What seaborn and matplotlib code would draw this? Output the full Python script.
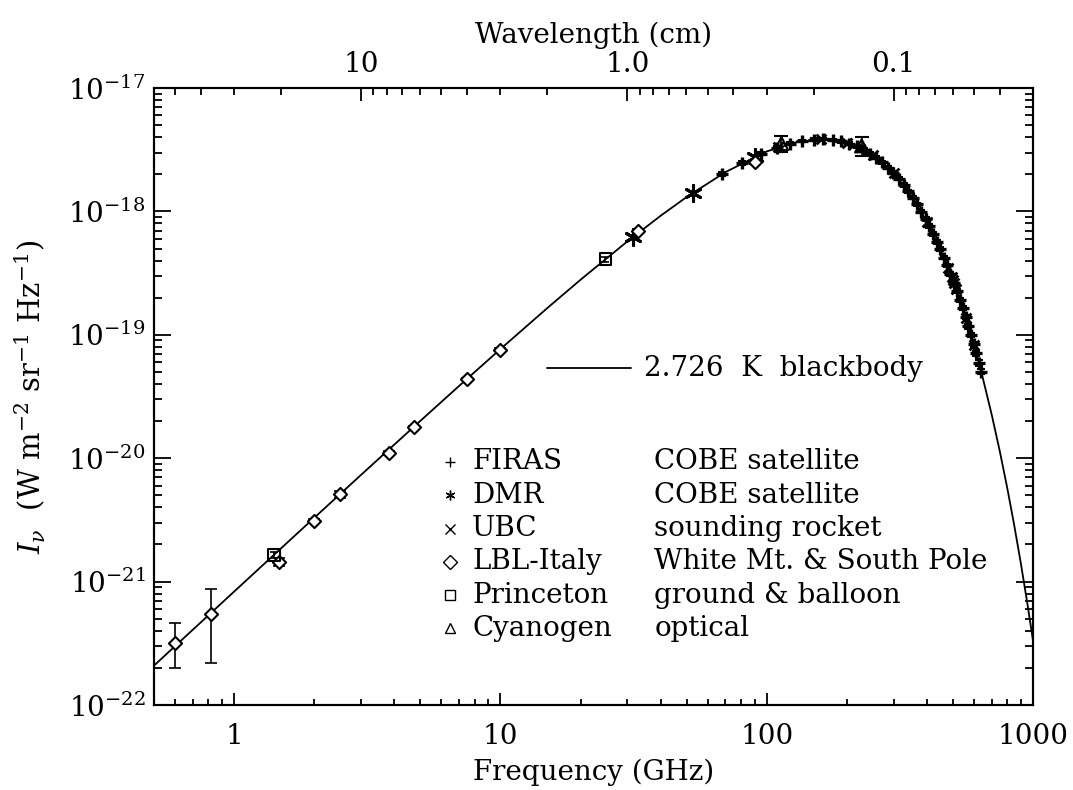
import matplotlib
matplotlib.use("Agg")
import matplotlib.pyplot as plt
from matplotlib.ticker import LogLocator, NullFormatter, FixedLocator, FixedFormatter
import numpy as np
import seaborn as sns

# 2.726 K blackbody curve (GHz, W m^-2 sr^-1 Hz^-1)
curve_nu = [0.5, 0.7, 1, 1.5, 2, 3, 5, 7, 10, 15, 20, 30, 40, 50, 70, 100, 130, 160,
            200, 250, 300, 350, 400, 450, 500, 550, 600, 650, 700, 750, 800, 850, 900, 950, 1000]
curve_I = [2.085e-22, 4.079e-22, 8.302e-22, 1.860e-21, 3.292e-21, 7.341e-21, 2.003e-20,
           3.856e-20, 7.661e-20, 1.647e-19, 2.795e-19, 5.722e-19, 9.232e-19, 1.306e-18,
           2.082e-18, 3.062e-18, 3.656e-18, 3.842e-18, 3.595e-18, 2.861e-18, 2.035e-18,
           1.337e-18, 8.259e-19, 4.876e-19, 2.774e-19, 1.530e-19, 8.240e-20, 4.35e-20,
           2.250e-20, 1.148e-20, 5.778e-21, 2.873e-21, 1.414e-21, 6.898e-22, 3.337e-22]

# FIRAS (COBE)
firas_nu = [68, 81, 95, 109, 122, 136, 150, 163, 177, 190, 204, 218, 231, 245, 258, 272,
            286, 299, 313, 327, 340, 354, 367, 381, 395, 408, 422, 436, 449, 463, 476, 490,
            504, 517, 531, 544, 558, 572, 585, 599, 612, 626, 639]
firas_I = [2.007e-18, 2.478e-18, 2.923e-18, 3.285e-18, 3.539e-18, 3.725e-18, 3.822e-18,
           3.841e-18, 3.793e-18, 3.697e-18, 3.548e-18, 3.363e-18, 3.169e-18, 2.944e-18,
           2.727e-18, 2.491e-18, 2.259e-18, 2.051e-18, 1.836e-18, 1.636e-18, 1.462e-18,
           1.289e-18, 1.142e-18, 9.98e-19, 8.69e-19, 7.62e-19, 6.59e-19, 5.68e-19, 4.93e-19,
           4.23e-19, 3.65e-19, 3.11e-19, 2.65e-19, 2.27e-19, 1.93e-19, 1.65e-19, 1.39e-19,
           1.17e-19, 9.96e-20, 8.35e-20, 7.09e-20, 5.93e-20, 5.02e-20]
firas_err = [0.08e-18, 0.08e-18, 0.08e-18, 0.08e-18, 0.08e-18, 0.08e-18, 0.08e-18,
             0.08e-18, 0.08e-18, 0.08e-18, 0.08e-18, 0.08e-18, 0.08e-18, 0.08e-18,
             0.07e-18, 0.07e-18, 0.06e-18, 0.06e-18, 0.05e-18, 0.05e-18, 0.04e-18,
             0.04e-18, 0.035e-18, 3.2e-20, 2.8e-20, 2.5e-20, 2.2e-20, 1.9e-20, 1.7e-20,
             1.5e-20, 1.3e-20, 1.1e-20, 0.95e-20, 0.85e-20, 0.75e-20, 0.65e-20, 0.55e-20,
             0.5e-20, 0.45e-20, 0.4e-20, 0.35e-20, 0.3e-20, 0.25e-20]

# DMR (COBE)
dmr_nu = [31.5, 53.0, 90.0]
dmr_I = [6.22e-19, 1.42e-18, 2.77e-18]

# UBC sounding rocket
ubc_nu = [110, 160, 200, 250, 300, 400, 480, 495, 500, 505, 515, 560, 600]
ubc_I = [3.307e-18, 3.842e-18, 3.595e-18, 2.861e-18, 2.035e-18, 8.26e-19, 3.49e-19,
         2.94e-19, 2.774e-19, 2.62e-19, 2.33e-19, 1.356e-19, 8.24e-20]

# LBL-Italy
lbl_nu = [0.6, 0.82, 1.47, 2.0, 2.5, 3.8, 4.75, 7.5, 10.0, 33.0, 90.0]
lbl_I = [3.2e-22, 5.5e-22, 1.45e-21, 3.1e-21, 5.1e-21, 1.1e-20, 1.78e-20, 4.4e-20,
         7.6e-20, 6.9e-19, 2.5e-18]
lbl_lo = [1.2e-22, 3.3e-22, 0.1e-21, 0.1e-21, 0.3e-21, 0.4e-21, 0.6e-21, 1.0e-21,
          1.5e-21, 0.2e-19, 0.1e-18]
lbl_hi = [1.4e-22, 3.2e-22, 0.1e-21, 0.1e-21, 0.3e-21, 0.4e-21, 0.6e-21, 1.0e-21,
          1.5e-21, 0.2e-19, 0.1e-18]

# Princeton
prin_nu = [1.41, 24.8]
prin_I = [1.64e-21, 4.11e-19]
prin_err = [0.1e-21, 0.2e-19]

# Cyanogen
cn_nu = [113.6, 227.3]
cn_I = [3.55e-18, 3.40e-18]
cn_err = [0.5e-18, 0.6e-18]

# axis ticks
freq_ticks = [1, 10, 100, 1000]
freq_labels = ["1", "10", "100", "1000"]
inten_ticks = [1e-22, 1e-21, 1e-20, 1e-19, 1e-18, 1e-17]
# top axis: wavelength (cm) range matching 0.5 - 1000 GHz
wave_lim = [59.96, 0.02998]
wave_ticks = [10, 1, 0.1]
wave_labels = ["10", "1.0", "0.1"]

legend_marks = ["+", (6, 2, 0), "x", "D", "s", "^"]
legend_names = ["FIRAS", "DMR", "UBC", "LBL-Italy", "Princeton", "Cyanogen"]
legend_desc = ["COBE satellite", "COBE satellite", "sounding rocket",
               "White Mt. & South Pole", "ground & balloon", "optical"]

sns.set_theme(style="ticks")
plt.rcParams["font.family"] = ["DejaVu Serif"]
plt.rcParams["mathtext.fontset"] = "dejavuserif"
plt.rcParams["axes.linewidth"] = 1.5
plt.rcParams["axes.edgecolor"] = "black"
plt.rcParams["text.color"] = "black"
plt.rcParams["axes.labelcolor"] = "black"
plt.rcParams["xtick.color"] = "black"
plt.rcParams["ytick.color"] = "black"

fig = plt.figure(figsize=(10.73, 7.90), dpi=100)
ax = fig.add_axes([0.1435, 0.1076, 0.8192, 0.7810])
ax.set_xscale("log")
ax.set_yscale("log")

sns.lineplot(x=curve_nu, y=curve_I, ax=ax, color="black", linewidth=1.3,
             sort=False, estimator=None)

# error bars first so markers sit on top
ax.errorbar(firas_nu, firas_I, yerr=firas_err, fmt="none", ecolor="black",
            elinewidth=1.5, capsize=3, capthick=1.5)
ax.errorbar(lbl_nu, lbl_I, yerr=[lbl_lo, lbl_hi], fmt="none", ecolor="black",
            elinewidth=1.2, capsize=4, capthick=1.2)
ax.errorbar(prin_nu, prin_I, yerr=prin_err, fmt="none", ecolor="black",
            elinewidth=1.2, capsize=3, capthick=1.2)
ax.errorbar(cn_nu, cn_I, yerr=cn_err, fmt="none", ecolor="black",
            elinewidth=1.2, capsize=5, capthick=1.5)

sns.scatterplot(x=firas_nu, y=firas_I, ax=ax, marker="+", s=80, color="black", linewidth=2.4)
sns.scatterplot(x=ubc_nu, y=ubc_I, ax=ax, marker="x", s=50, color="black", linewidth=2)
sns.scatterplot(x=dmr_nu, y=dmr_I, ax=ax, marker=(6, 2, 0), s=130, color="black", linewidth=2.2)
sns.scatterplot(x=lbl_nu, y=lbl_I, ax=ax, marker="D", s=45, color="white",
                edgecolor="black", linewidth=1.5, zorder=4)
sns.scatterplot(x=prin_nu, y=prin_I, ax=ax, marker="s", s=70, color="none",
                edgecolor="black", linewidth=1.5, zorder=4)
sns.scatterplot(x=cn_nu, y=cn_I, ax=ax, marker="^", s=90, color="none",
                edgecolor="black", linewidth=1.5, zorder=4)

ax.set_xlim(0.5, 1000)
ax.set_ylim(1e-22, 1e-17)

fs = 20

# wavelength axis on top
ax2 = ax.twiny()
ax2.set_xscale("log")
ax2.set_xlim(wave_lim)
ax2.xaxis.set_major_locator(FixedLocator(wave_ticks))
ax2.xaxis.set_major_formatter(FixedFormatter(wave_labels))
ax2.xaxis.set_minor_locator(LogLocator(subs=np.arange(2, 10), numticks=100))
ax2.xaxis.set_minor_formatter(NullFormatter())
ax2.tick_params(axis="x", which="both", direction="in", labelsize=fs, pad=7, width=1.3,
                color="black")
ax2.tick_params(axis="x", which="major", length=9)
ax2.tick_params(axis="x", which="minor", length=5)
ax2.set_xlabel("Wavelength (cm)", fontsize=fs, labelpad=6)

ax.xaxis.set_major_locator(FixedLocator(freq_ticks))
ax.xaxis.set_major_formatter(FixedFormatter(freq_labels))
ax.xaxis.set_minor_locator(LogLocator(subs=np.arange(2, 10), numticks=100))
ax.xaxis.set_minor_formatter(NullFormatter())
ax.yaxis.set_major_locator(FixedLocator(inten_ticks))
ax.yaxis.set_minor_locator(LogLocator(subs=np.arange(2, 10), numticks=100))
ax.yaxis.set_minor_formatter(NullFormatter())

ax.tick_params(axis="x", which="both", direction="in", top=False, bottom=True,
               labelsize=fs, pad=13, width=1.3, color="black")
ax.tick_params(axis="x", which="major", length=9)
ax.tick_params(axis="x", which="minor", length=4)
ax.tick_params(axis="y", which="both", direction="in", left=True, right=True,
               labelsize=fs, pad=6, width=1.3, color="black")
ax.tick_params(axis="y", which="major", length=12)
ax.tick_params(axis="y", which="minor", length=6)

ax.set_xlabel("Frequency (GHz)", fontsize=fs, labelpad=6)
ax.set_ylabel(r"$I_\nu$  (W m$^{-2}$ sr$^{-1}$ Hz$^{-1}$)", fontsize=21)
ax.yaxis.set_label_coords(-0.12, 0.5)

# blackbody key
ax.plot([0.447, 0.543], [0.546, 0.546], transform=ax.transAxes, color="black", linewidth=1.3)
ax.text(0.558, 0.546, "2.726  K  blackbody", transform=ax.transAxes, fontsize=fs,
        va="center", ha="left")

# instrument key
for i, (m, name, desc) in enumerate(zip(legend_marks, legend_names, legend_desc)):
    yy = 0.394 - i * 0.054
    filled = m in ("D", "s", "^")
    ax.plot([0.337], [yy], transform=ax.transAxes, marker=m, color="black",
            markersize=7, markerfacecolor="white" if filled else "black",
            markeredgewidth=1.0, linestyle="none")
    ax.text(0.362, yy, name, transform=ax.transAxes, fontsize=fs, va="center", ha="left")
    ax.text(0.569, yy, desc, transform=ax.transAxes, fontsize=fs, va="center", ha="left")

for a in (ax, ax2):
    for s in a.spines.values():
        s.set_linewidth(1.5)

fig.savefig("out.png", dpi=100)
